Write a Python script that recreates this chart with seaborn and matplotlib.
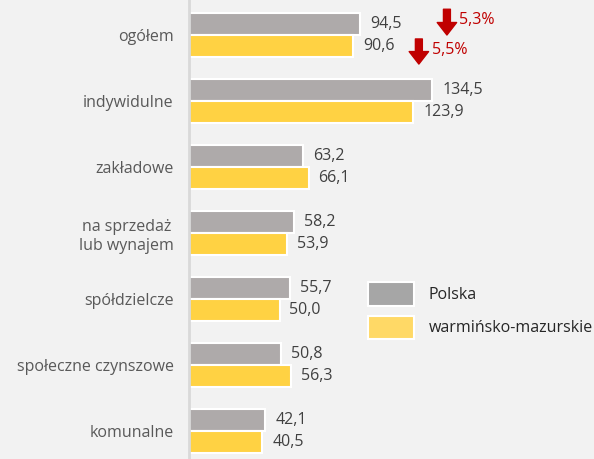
import numpy as np
import pandas as pd
import matplotlib
matplotlib.use("Agg")
import matplotlib.pyplot as plt
import seaborn as sns
from matplotlib.patches import Patch

categories = ["ogółem", "indywidulne", "zakładowe", "na sprzedaż\nlub wynajem",
              "spółdzielcze", "społeczne czynszowe", "komunalne"]
polska = [94.5, 134.5, 63.2, 58.2, 55.7, 50.8, 42.1]
warminsko = [90.6, 123.9, 66.1, 53.9, 50.0, 56.3, 40.5]
series = ["Polska", "warmińsko-mazurskie"]
changes = ["5,3%", "5,5%"]

df = pd.DataFrame({
    "kategoria": categories * 2,
    "wartosc": polska + warminsko,
    "seria": [series[0]] * len(categories) + [series[1]] * len(categories),
})

sns.set_style("white")
plt.rcParams["font.family"] = ["Open Sans", "DejaVu Sans"]

bg = "#f2f2f2"
bar_colors = ["#aeaaaa", "#ffd243"]
fig = plt.figure(figsize=(5.94, 4.59), dpi=100, facecolor=bg)
ax = fig.add_axes([189 / 594, 0, 1 - 189 / 594, 1])
ax.set_facecolor(bg)

sns.barplot(data=df, y="kategoria", x="wartosc", hue="seria", orient="h",
            palette=bar_colors, saturation=1, width=0.67, edgecolor="white",
            linewidth=1.5, legend=False, ax=ax)

for i, cont in enumerate(ax.containers):
    for bar, v in zip(cont, [polska, warminsko][i]):
        y = bar.get_y() + bar.get_height() / 2
        ax.text(v + 5.5, y, f"{v:.1f}".replace(".", ","), va="center", ha="left",
                fontsize=11.5, color="#404040")

# strzalki spadku dla "ogółem"
arrows = [(142.5, -0.39, 0.0, 149.0, -0.23), (127.0, 0.06, 0.44, 134.0, 0.23)]
for (x, y0, y1, tx, ty), lab in zip(arrows, changes):
    ax.annotate("", xy=(x, y1), xytext=(x, y0),
                arrowprops=dict(width=5, headwidth=14, headlength=9,
                                color="#c00000", shrink=0))
    ax.text(tx, ty, lab, color="#c00000", fontsize=11.5, va="center", ha="left")

ax.set_xlim(0, (594 - 189) / 1.81)
ax.set_ylim(6.42, -0.53)
ax.set_xlabel("")
ax.set_ylabel("")
ax.set_xticks([])
ax.tick_params(axis="y", length=0, pad=11, labelsize=11.5, labelcolor="#595959")
for lbl in ax.get_yticklabels():
    lbl.set_multialignment("center")
for s in ["top", "right", "bottom"]:
    ax.spines[s].set_visible(False)
ax.spines["left"].set_color("#d9d9d9")
ax.spines["left"].set_linewidth(2)

handles = [Patch(facecolor="#a6a6a6", edgecolor="white", linewidth=1.5),
           Patch(facecolor="#ffd966", edgecolor="white", linewidth=1.5)]
leg = ax.legend(handles, series, loc="upper left", bbox_to_anchor=(0.442, 0.385),
                frameon=False, fontsize=11.5, handlelength=2.9, handleheight=1.9,
                labelspacing=0.6, handletextpad=0.9, borderaxespad=0, borderpad=0)
for t in leg.get_texts():
    t.set_color("#262626")

fig.savefig("out.png", dpi=100, facecolor=bg)
